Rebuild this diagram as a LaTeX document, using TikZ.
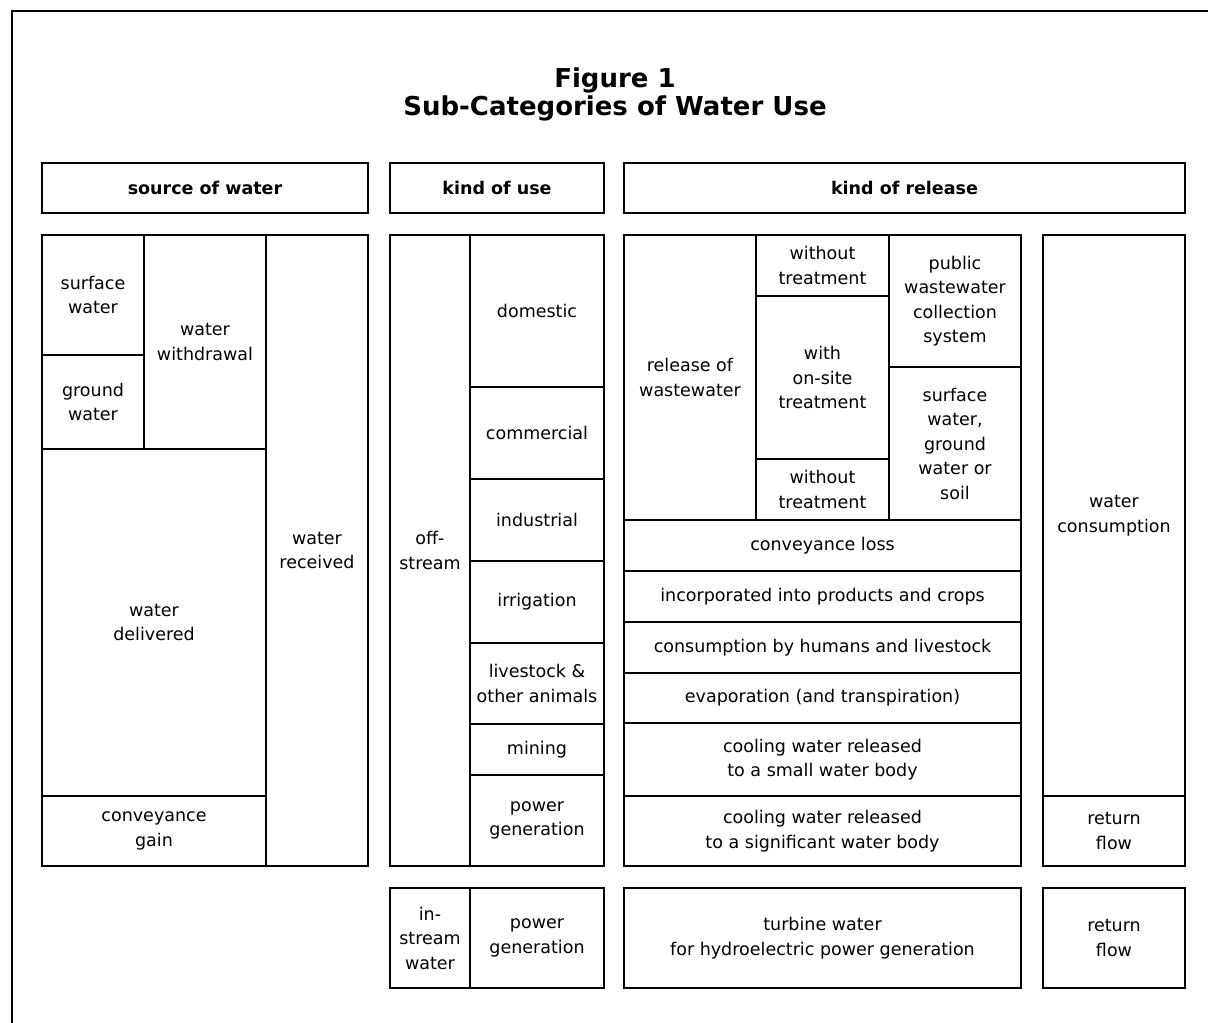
\documentclass[tikz,border=0pt]{standalone}
\usepackage{fontspec}
\usepackage{tikz}
\newfontfamily\cellfont{DejaVu Sans}
\newcommand{\bodysize}{\fontsize{17.5}{24.5}\selectfont}
\newcommand{\titlesize}{\fontsize{26}{28}\selectfont}
\tikzset{
  cell/.style={draw,line width=1.6pt,inner sep=0pt,align=center,font=\cellfont\bodysize},
  headcell/.style={cell,font=\cellfont\bodysize\bfseries},
}
% box from (x1,y1) to (x2,y2), text centred
\newcommand{\cell}[7][cell]{%
  \node[#1,minimum width={(#5-#3)*1pt},minimum height={(#6-#4)*1pt}] (#2) at ({(#3+#5)/2},{(#4+#6)/2}) {#7};}

\begin{document}
\begin{tikzpicture}[x=1pt,y=-1pt]
\useasboundingbox (0,0) rectangle (1208,1023);
\draw[line width=2.4pt] (12,1023)--(12,11)--(1208,11);
\node[font=\cellfont\titlesize\bfseries,align=center] (title) at (615,94) {Figure 1\\Sub-Categories of Water Use};
% headers
\cell[headcell]{hsource}{42}{163}{368}{213}{source of water}
\cell[headcell]{huse}{390}{163}{604}{213}{kind of use}
\cell[headcell]{hrelease}{624}{163}{1185}{213}{kind of release}
% source of water
\cell{surface}{42}{235}{144}{355}{surface\\water}
\cell{ground}{42}{355}{144}{449}{ground\\water}
\cell{withdrawal}{144}{235}{266}{449}{water\\withdrawal}
\cell{delivered}{42}{449}{266}{796}{water\\delivered}
\cell{gain}{42}{796}{266}{866}{conveyance\\gain}
\cell{received}{266}{235}{368}{866}{water\\received}
% kind of use
\cell{offstream}{390}{235}{470}{866}{off-\\stream}
\cell{domestic}{470}{235}{604}{387}{domestic}
\cell{commercial}{470}{387}{604}{479}{commercial}
\cell{industrial}{470}{479}{604}{561}{industrial}
\cell{irrigation}{470}{561}{604}{643}{irrigation}
\cell{livestock}{470}{643}{604}{724}{livestock \&\\other animals}
\cell{mining}{470}{724}{604}{775}{mining}
\cell{power}{470}{775}{604}{866}{power\\generation}
\cell{instream}{390}{888}{470}{988}{in-\\stream\\water}
\cell{hydro}{470}{888}{604}{988}{power\\generation}
% kind of release
\cell{wastewater}{624}{235}{756}{520}{release of\\wastewater}
\cell{withoutA}{756}{235}{889}{296}{without\\treatment}
\cell{onsite}{756}{296}{889}{459}{with\\on-site\\treatment}
\cell{withoutB}{756}{459}{889}{520}{without\\treatment}
\cell{public}{889}{235}{1021}{367}{public\\wastewater\\collection\\system}
\cell{soil}{889}{367}{1021}{520}{surface\\water,\\ground\\water or\\soil}
\cell{loss}{624}{520}{1021}{571}{conveyance loss}
\cell{products}{624}{571}{1021}{622}{incorporated into products and crops}
\cell{humans}{624}{622}{1021}{673}{consumption by humans and livestock}
\cell{evap}{624}{673}{1021}{723}{evaporation (and transpiration)}
\cell{coolsmall}{624}{723}{1021}{796}{cooling water released\\to a small water body}
\cell{coolbig}{624}{796}{1021}{866}{cooling water released\\to a significant water body}
\cell{turbine}{624}{888}{1021}{988}{turbine water\\for hydroelectric power generation}
\cell{consumption}{1043}{235}{1185}{796}{water\\consumption}
\cell{returnA}{1043}{796}{1185}{866}{return\\flow}
\cell{returnB}{1043}{888}{1185}{988}{return\\flow}
\end{tikzpicture}
\end{document}
